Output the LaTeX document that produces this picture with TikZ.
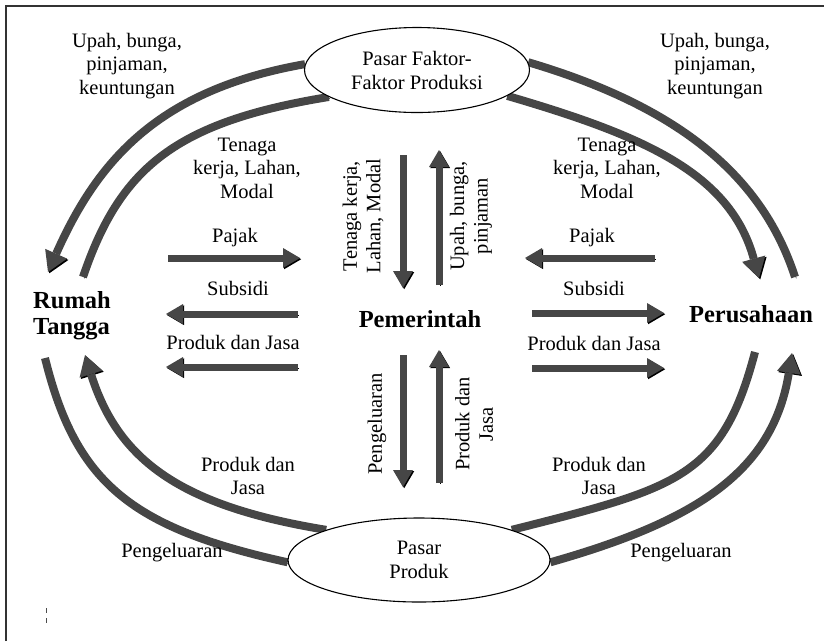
\documentclass[tikz,border=0pt]{standalone}
\usepackage{fontspec}
\setmainfont{Liberation Serif}
\usetikzlibrary{arrows.meta,shapes.geometric,backgrounds}
\definecolor{flowgray}{HTML}{464646}

\begin{document}
\begin{tikzpicture}[x=1pt,y=-1pt]
% Styles
\tikzset{
    market/.style={ellipse, draw, line width=1.1pt, fill=white, inner sep=0pt,
        align=center, font=\fontsize{20.5}{24}\selectfont},
    sector/.style={inner sep=0pt, font=\fontsize{24.5}{26}\selectfont\bfseries},
    flowtext/.style={inner sep=0pt, align=center, font=\fontsize{20.5}{23.5}\selectfont},
    flow/.style={draw=flowgray, line width=7pt,
        -{Triangle[length=17pt,width=20pt,line width=0pt]},
        preaction={draw=black, transform canvas={shift={(1.2pt,-1.2pt)}}}},
    band/.style={draw=flowgray, line width=8pt,
        preaction={draw=black, transform canvas={shift={(1.3pt,-1.3pt)}}}},
    head/.style={-{Triangle[length=20pt,width=24pt,line width=0pt]}}
}
\useasboundingbox (0,0) rectangle (824,641);

% Frame
\draw[line width=2pt, draw=black!80] (6,641) -- (6,6) -- (824,6);
\draw[black!70, line width=0.8pt] (46,608) -- (46,613) (46,618) -- (46,623);

% Nodes
\node[market, minimum width=225pt, minimum height=85pt] (faktor) at (417,70) {Pasar Faktor-\\Faktor Produksi};
\node[market, minimum width=262pt, minimum height=84pt] (produk) at (419,560) {Pasar\\Produk};
\node[sector, align=left] (rumah) at (72,316) {Rumah\\Tangga};
\node[sector] (pemerintah) at (420,319) {Pemerintah};
\node[sector] (perusahaan) at (751,314) {Perusahaan};

% Labels
\node[flowtext] (upahL) at (127,66) {Upah, bunga,\\pinjaman,\\keuntungan};
\node[flowtext] (upahR) at (715,66) {Upah, bunga,\\pinjaman,\\keuntungan};
\node[flowtext] (tenagaL) at (247,168) {Tenaga\\kerja, Lahan,\\Modal};
\node[flowtext] (tenagaR) at (607,168) {Tenaga\\kerja, Lahan,\\Modal};
\node[flowtext] (pajakL) at (235,238) {Pajak};
\node[flowtext] (pajakR) at (592,238) {Pajak};
\node[flowtext] (subsidiL) at (238,288) {Subsidi};
\node[flowtext] (subsidiR) at (594,288) {Subsidi};
\node[flowtext] (produkL) at (233,342) {Produk dan Jasa};
\node[flowtext] (produkR) at (594,343) {Produk dan Jasa};
\node[flowtext] (barangL) at (248,476) {Produk dan\\Jasa};
\node[flowtext] (barangR) at (599,476) {Produk dan\\Jasa};
\node[flowtext] (belanjaL) at (172,553) {Pengeluaran};
\node[flowtext] (belanjaR) at (681,553) {Pengeluaran};
\node[flowtext, rotate=90] (tenagaG) at (363,216) {Tenaga kerja,\\Lahan, Modal};
\node[flowtext, rotate=90] (upahG) at (471,216) {Upah, bunga,\\pinjaman};
\node[flowtext, rotate=90] (belanjaG) at (377,424) {Pengeluaran};
\node[flowtext, rotate=90] (barangG) at (474,424) {Produk dan\\Jasa};

% Arc ends
\coordinate (rtOut) at (48,272);
\coordinate (rtIn) at (83,277);
\coordinate (ptOut) at (795,277);
\coordinate (ptIn) at (759,278);
\coordinate (rbOut) at (45,358);
\coordinate (rbIn) at (85,355);
\coordinate (pbIn) at (755,352);
\coordinate (pbOut) at (792,353);

% Straight flow ends
\coordinate (pajakL1) at (168,258);  \coordinate (pajakL2) at (300,258);
\coordinate (subsidiL1) at (298,314); \coordinate (subsidiL2) at (166,314);
\coordinate (produkL1) at (298,367); \coordinate (produkL2) at (166,367);
\coordinate (pajakR1) at (655,258);  \coordinate (pajakR2) at (525,258);
\coordinate (subsidiR1) at (532,313); \coordinate (subsidiR2) at (664,313);
\coordinate (produkR1) at (532,368); \coordinate (produkR2) at (664,368);
\coordinate (tenagaG1) at (403,155); \coordinate (tenagaG2) at (403,288);
\coordinate (upahG1) at (439,285);   \coordinate (upahG2) at (439,150);
\coordinate (belanjaG1) at (403,355); \coordinate (belanjaG2) at (403,487);
\coordinate (barangG1) at (439,483); \coordinate (barangG2) at (439,350);

% Connections
\begin{scope}[on background layer]
\draw[band, head] (faktor.177) .. controls (157,90) and (97,162) .. (rtOut);
\draw[band] (faktor.197) .. controls (175,122) and (120,168) .. (rtIn);
\draw[band] (faktor.4) .. controls (673,105) and (761,172) .. (ptOut);
\draw[band, head] (faktor.-16) .. controls (641,135) and (730,172) .. (ptIn);
\draw[band] (produk.181) .. controls (132,528) and (76,484) .. (rbOut);
\draw[band, head] (produk.162) .. controls (180,506) and (118,460) .. (rbIn);
\draw[band] (produk.18) .. controls (677,488) and (722,478) .. (pbIn);
\draw[band, head] (produk.-1) .. controls (696,521) and (773,472) .. (pbOut);
\end{scope}

\draw[flow] (pajakL1) -- (pajakL2);
\draw[flow] (subsidiL1) -- (subsidiL2);
\draw[flow] (produkL1) -- (produkL2);
\draw[flow] (pajakR1) -- (pajakR2);
\draw[flow] (subsidiR1) -- (subsidiR2);
\draw[flow] (produkR1) -- (produkR2);
\draw[flow] (tenagaG1) -- (tenagaG2);
\draw[flow] (upahG1) -- (upahG2);
\draw[flow] (belanjaG1) -- (belanjaG2);
\draw[flow] (barangG1) -- (barangG2);
\end{tikzpicture}
\end{document}
